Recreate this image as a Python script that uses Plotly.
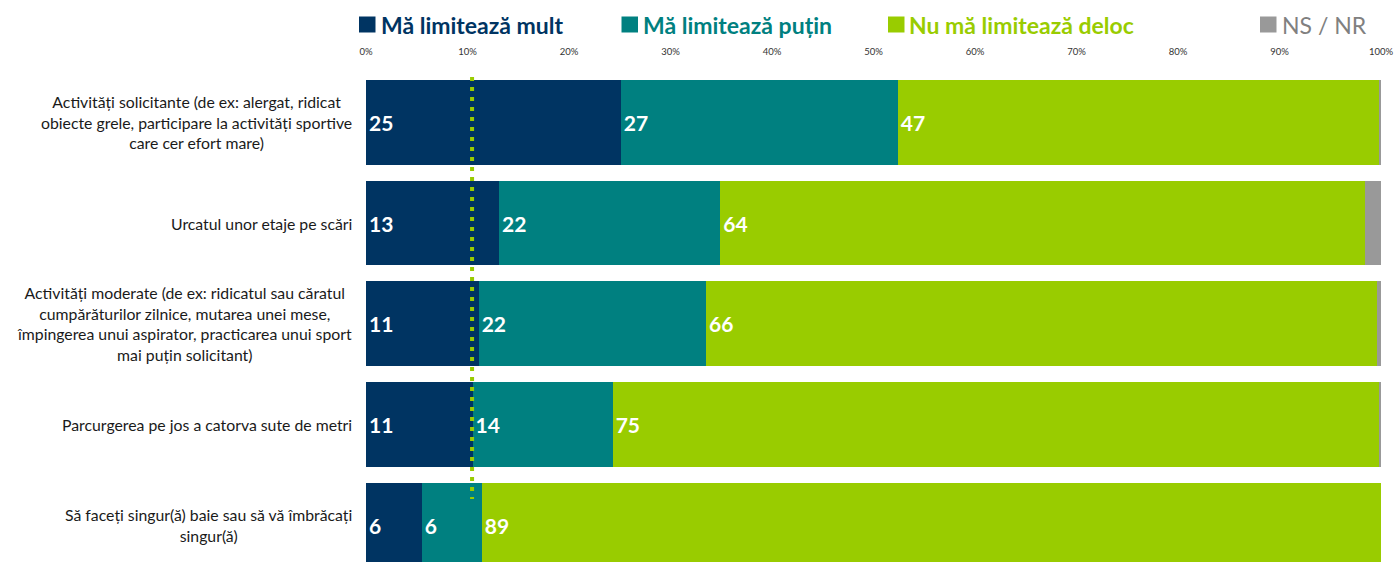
import plotly.graph_objects as go

categories = [
    "Activități solicitante (de ex: alergat, ridicat<br>obiecte grele, participare la activități sportive<br>care cer efort mare)",
    "Urcatul unor etaje pe scări",
    "Activități moderate (de ex: ridicatul sau căratul<br>cumpărăturilor zilnice, mutarea unei mese,<br>împingerea unui aspirator, practicarea unui sport<br>mai puțin solicitant)",
    "Parcurgerea pe jos a catorva sute de metri",
    "Să faceți singur(ă) baie sau să vă îmbrăcați<br>singur(ă)",
]
series_names = ["Mă limitează mult", "Mă limitează puțin", "Nu mă limitează deloc", "NS / NR"]
mult = [25.1, 13.1, 11.1, 10.5, 5.5]
putin = [27.3, 21.8, 22.4, 13.8, 5.9]
deloc = [47.4, 63.5, 66.1, 75.5, 88.6]
nsnr = [0.2, 1.6, 0.4, 0.2, 0.0]
mult_lbl = [25, 13, 11, 11, 6]
putin_lbl = [27, 22, 22, 14, 6]
deloc_lbl = [47, 64, 66, 75, 89]
tick_vals = [0, 10, 20, 30, 40, 50, 60, 70, 80, 90, 100]
tick_text = [f"{v}%" for v in tick_vals]
ref_line_x = 10.45

colors = ["#003462", "#008080", "#99CC00", "#999999"]
FONT = "Lato"

W, H = 1394, 562
L, R, T, B = 366, 13, 72, 0
PW, PH = W - L - R, H - T - B

def px_x(p):
    return (p - L) / PW

def px_y(p):
    return (H - B - p) / PH

ypos = list(range(len(categories)))

fig = go.Figure()
all_vals = [mult, putin, deloc, nsnr]
all_lbls = [mult_lbl, putin_lbl, deloc_lbl, None]
for name, vals, lbls, col in zip(series_names, all_vals, all_lbls, colors):
    fig.add_trace(go.Bar(
        y=ypos, x=vals, orientation="h", name=name,
        marker=dict(color=col, line=dict(width=0)),
        text=[str(v) for v in lbls] if lbls else None,
        textposition="inside" if lbls else "none",
        insidetextanchor="start",
        textangle=0,
        textfont=dict(family=FONT, size=21, color="white", weight="bold"),
        hoverinfo="skip",
        showlegend=False,
    ))

# reference dotted line
fig.add_shape(type="line", xref="x", yref="y", x0=ref_line_x, x1=ref_line_x,
              y0=-0.55, y1=3.74, line=dict(color="#99CC00", width=4, dash="4px,6px"))

# category labels
for i, c in enumerate(categories):
    fig.add_annotation(x=0, xref="paper", y=i, yref="y", text=c, showarrow=False,
                       xanchor="right", xshift=-12, align="center",
                       font=dict(family=FONT, size=15.8, color="#1a1a1a"))

# legend (manual)
leg = [(359, 381, True), (621.5, 642.5, True), (888, 909, True), (1260, 1281.5, False)]
for (sx, tx, bold), name, col in zip(leg, series_names, colors):
    fig.add_shape(type="rect", xref="paper", yref="paper",
                  x0=px_x(sx), x1=px_x(sx + 16.5), y0=px_y(32.5), y1=px_y(16.5),
                  fillcolor=col, line=dict(width=0))
    fig.add_annotation(x=px_x(tx - 2), xref="paper", y=px_y(24.5), yref="paper",
                       text=name, showarrow=False, xanchor="left", yanchor="middle",
                       font=dict(family=FONT, size=23, color=col if bold else "#808080",
                                 weight="bold" if bold else "normal"))

fig.update_layout(
    barmode="stack", bargap=0.16,
    width=W, height=H,
    margin=dict(l=L, r=R, t=T, b=B, pad=0),
    plot_bgcolor="white", paper_bgcolor="white",
    showlegend=False,
    xaxis=dict(range=[0, 100], side="top", tickvals=tick_vals, ticktext=tick_text,
               showgrid=False, zeroline=False, showline=False, ticks="",
               tickfont=dict(family=FONT, size=9.5, color="#333333"),
               ticklabelstandoff=14, fixedrange=True),
    yaxis=dict(range=[-0.5 + PH / 100.7, -0.5], tickvals=ypos, showticklabels=False,
               showgrid=False, zeroline=False, showline=False, ticks="", fixedrange=True),
)

fig.write_html("out.html", config={"displayModeBar": False},
               post_script="document.body.style.margin='0';")
